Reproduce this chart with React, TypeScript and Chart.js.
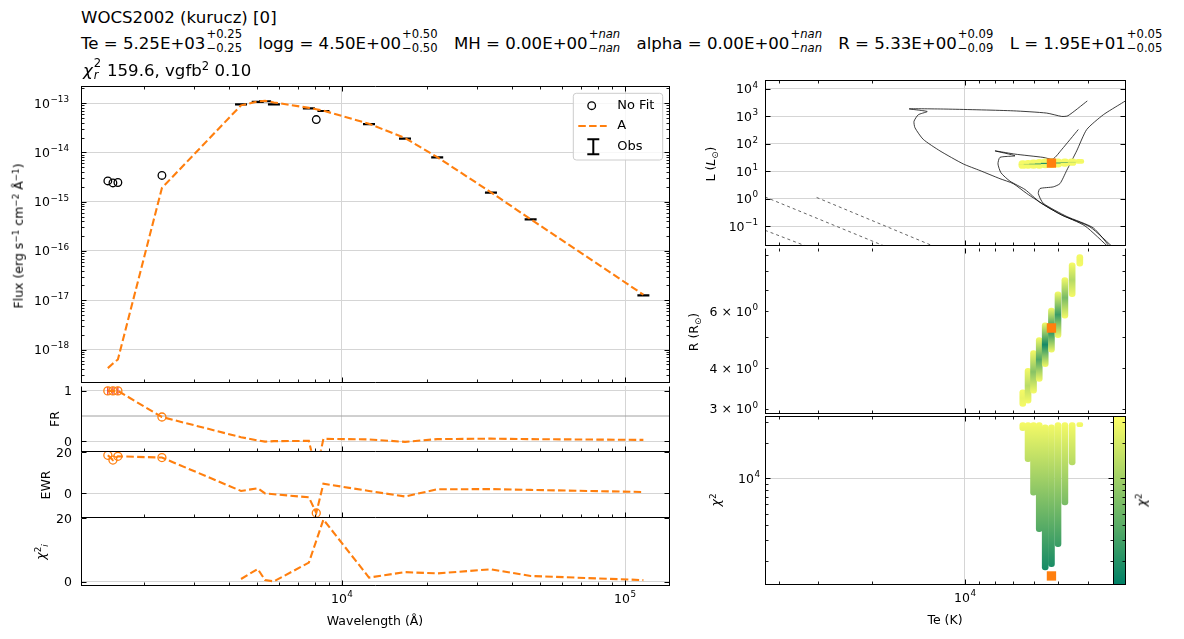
import React, { useEffect, useRef } from 'react';
import { Chart, registerables } from 'chart.js';

Chart.register(...registerables);

const FONT = '"DejaVu Sans", "Liberation Sans", sans-serif';
Chart.defaults.font.family = FONT;
Chart.defaults.color = '#000';

const ORANGE = '#ff7f0e';
const GRID = '#d5d5d5';
const DASH = [7.5, 3.3];

// ================= SED data (left column) =================
const obsWave = [4400, 5040, 5350, 5750, 7640, 8600, 12460, 16700, 21700, 33600, 46400, 116100];
const obsFlux = [9.4e-14, 1.06e-13, 1.09e-13, 9.4e-14, 7.8e-14, 6.9e-14, 3.75e-14, 1.9e-14, 7.9e-15, 1.53e-15, 4.36e-16, 1.26e-17];
const noFitWave = [1489, 1552, 1616, 2312, 8114];
const noFitFlux = [2.63e-15, 2.4e-15, 2.45e-15, 3.4e-15, 4.63e-14];
const modelWave = [1489, 1552, 1616, 2312, 4400, 5040, 5350, 5750, 7640, 8114, 8600, 12460, 16700, 21700, 33600, 46400, 116100];
const modelFlux = [4.2e-19, 5.2e-19, 6.3e-19, 1.9e-15, 9.0e-14, 1.08e-13, 1.11e-13, 1.03e-13, 8.0e-14, 7.5e-14, 7.0e-14, 3.8e-14, 1.95e-14, 8.0e-15, 1.55e-15, 4.4e-16, 1.3e-17];
const frValues = [1.0, 1.0, 1.0, 0.48, 0.078, 0.015, -0.01, 0.0, 0.006, -0.62, 0.045, 0.035, -0.014, 0.04, 0.05, 0.04, 0.025];
const ewrValues = [18.4, 16.1, 17.9, 17.3, 1.1, 2.4, -0.1, -0.5, -2.0, -9.6, 4.6, 1.1, -1.6, 1.9, 2.0, 1.6, 0.6];
const chiWave = [4400, 5040, 5350, 5750, 7640, 8600, 12460, 16700, 21700, 33600, 46400, 116100];
const chiValues = [0.85, 4.0, 0.5, 0.1, 6.0, 19.5, 1.3, 3.0, 2.6, 3.9, 1.8, 0.5];
const FR_REF = 0.5;

// axis limits (left column)
const WAVE_MIN = 1197, WAVE_MAX = 143000;
const FLUX_MIN = 2.22e-19, FLUX_MAX = 2.22e-13;
const FR_MIN = -0.19, FR_MAX = 1.097;
const EWR_MIN = -11.4, EWR_MAX = 20.0;
const CHII_MIN = -1.04, CHII_MAX = 20.0;

// ================= model grid (right column) =================
const gridTe = [6500, 6250, 6000, 5750, 5500, 5250, 5000, 4750, 4500, 4250];
const chiLow = [25300, 13800, 7200, 3520, 1670, 1780, 2630, 5940, 12970, 27400];
const chiHigh = [29600, 29600, 29600, 29600, 28300, 28300, 29600, 29600, 29600, 29600];
const radLow = [3.05, 3.12, 3.35, 3.64, 4.05, 4.49, 4.98, 5.72, 6.66, 8.28];
const radHigh = [3.43, 4.0, 4.54, 4.98, 5.53, 6.14, 6.9, 7.64, 8.48, 9.0];
const lumLow = [12.5, 12.5, 12.5, 12.5, 13, 13.5, 14, 15, 16, 19];
const lumHigh = [24, 25, 26, 27, 28, 28, 28, 28, 28, 27];
const bestTe = 5250, bestL = 19.5, bestR = 5.33, bestChi = 1486;

// evolutionary tracks (Te [K], L [Lsun])
const track1Te = [3270, 3940, 4808, 5440, 6313, 6979, 7704, 8942, 10130, 12050, 13650, 14510, 14620, 14160, 13250, 15150, 11180, 6979, 5440, 4864, 4642, 4020];
const track1L = [0.0143, 0.0929, 0.236, 0.513, 1.535, 3.51, 5.3, 10.5, 18.3, 54.7, 144, 378, 651, 1132, 1486, 1858, 1811, 1574, 1303, 984, 1042, 3597];
const track2Te = [3394, 4090, 4927, 5718, 6394, 7150, 7647, 7820, 7704, 6889, 7997, 6889, 5593, 5191, 4853, 4298];
const track2L = [0.0151, 0.101, 0.272, 0.731, 2.14, 4.3, 8.7, 18.3, 31.8, 36.2, 54.7, 41.7, 31.8, 27.6, 63, 328];
const track3Te = [2924, 3112, 3567, 4037, 4350, 4688, 4927, 5179, 5718, 5791, 5580, 4688, 3844, 3344];
const track3L = [4603, 2972, 1132, 328, 54.7, 10.5, 3.51, 2.67, 2.32, 1.535, 0.673, 0.224, 0.0855, 0.0139];
const dashATe = [44370, 16230], dashAL = [1.15, 0.0109];
const dashBTe = [30200, 11180], dashBL = [1.1, 0.0104];
const dashCTe = [44370, 31730], dashCL = [0.07, 0.0164];

const TE_MIN = 3035, TE_MAX = 44370, TE_MIN_CHI = 3319;
const L_MIN = 0.0197, L_MAX = 20900;
const R_MIN = 2.93, R_MAX = 9.43;
const CHI_MIN = 1270, CHI_MAX = 33700;

// tick values
const sedMajorX = [1e4, 1e5];
const fluxMajor = [1e-18, 1e-17, 1e-16, 1e-15, 1e-14, 1e-13];
const teMajor = [1e4];
const lumMajor = [0.1, 1, 10, 100, 1000, 10000];
const radLabelTicks = [3, 4, 6];
const radMinor = [3, 4, 5, 6, 7, 8, 9];
const chiMajor = [1e4];
const frTicks = [0, 1];
const ewrTicks = [0, 20];
const chiiTicks = [0, 20];

// ================= helpers =================
function logMinors(min: number, max: number) {
  const out: number[] = [];
  for (let e = Math.floor(Math.log10(min)) - 1; e <= Math.ceil(Math.log10(max)); e++) {
    for (let m = 2; m <= 9; m++) {
      const v = m * Math.pow(10, e);
      if (v > min && v < max) out.push(v);
    }
  }
  return out;
}
const pts = (xs: number[], ys: number[]) => xs.map((x, i) => ({ x, y: ys[i] }));

function summer(t: number) {
  const u = Math.max(0, Math.min(1, t));
  return `rgb(${Math.round(255 * u)},${Math.round(255 * (0.5 + 0.5 * u))},102)`;
}
const chiT = (c: number) => (Math.log10(c) - Math.log10(CHI_MIN)) / (Math.log10(CHI_MAX) - Math.log10(CHI_MIN));
const fin = (...v: number[]) => v.every((n) => Number.isFinite(n));

type Lbl = { v: number; base: string; exp?: string };
const p10 = (v: number): Lbl => ({ v, base: '10', exp: String(Math.round(Math.log10(v))).replace('-', '−') });
const plain = (v: number): Lbl => ({ v, base: String(v) });
const mant = (v: number): Lbl => ({ v, base: `${v} × 10`, exp: '0' });

type Rect = { left: number; top: number; width: number; height: number };
type Margin = { l: number; r: number; t: number; b: number };

// grid lines are drawn only at ticks strictly inside the axis range
function axis(o: { type: 'logarithmic' | 'linear'; min: number; max: number; ticks: number[]; grid?: boolean; reverse?: boolean }) {
  const inner = o.ticks.filter((v) => v > o.min && v < o.max);
  return {
    type: o.type, min: o.min, max: o.max, reverse: !!o.reverse, offset: false,
    afterBuildTicks: (s: any) => { s.ticks = inner.map((v) => ({ value: v })); },
    ticks: { display: false },
    grid: { display: o.grid !== false, color: GRID, lineWidth: 1, drawTicks: false, offset: false },
    border: { display: false },
  };
}

function baseOptions(m: Margin, x: any, y: any) {
  return {
    responsive: false, maintainAspectRatio: false, animation: false, devicePixelRatio: 1, events: [],
    layout: { padding: { left: 0, right: m.r, top: m.t, bottom: 0 } },
    plugins: { legend: { display: false }, tooltip: { enabled: false }, title: { display: false } },
    scales: {
      x: {
        ...x, position: 'bottom',
        afterFit: (s: any) => { s.height = m.b; s.paddingLeft = 0; s.paddingRight = 0; s.paddingTop = 0; s.paddingBottom = 0; },
      },
      y: {
        ...y, position: 'left',
        afterFit: (s: any) => { s.width = m.l; s.paddingTop = 0; s.paddingBottom = 0; s.paddingLeft = 0; s.paddingRight = 0; },
      },
    },
  };
}

type Spec = {
  xMajor: number[]; xMinor: number[]; xSides: string[];
  yMajor: number[]; yMinor: number[]; ySides: string[];
  xLabels?: Lbl[]; yLabels?: Lbl[]; yPad?: number;
  noTop?: boolean; legend?: boolean; colorbar?: boolean;
};

const TICK_FS = 12.5, EXP_FS = 8.8;

function drawTickLabel(ctx: CanvasRenderingContext2D, l: Lbl, x: number, y: number, align: 'right' | 'center') {
  ctx.font = `${TICK_FS}px ${FONT}`;
  const wb = ctx.measureText(l.base).width;
  let we = 0;
  if (l.exp) { ctx.font = `${EXP_FS}px ${FONT}`; we = ctx.measureText(l.exp).width + 0.5; }
  const total = wb + we;
  const x0 = align === 'right' ? x - total : x - total / 2;
  ctx.textAlign = 'left'; ctx.textBaseline = 'alphabetic'; ctx.fillStyle = '#000';
  ctx.font = `${TICK_FS}px ${FONT}`;
  ctx.fillText(l.base, x0, y);
  if (l.exp) { ctx.font = `${EXP_FS}px ${FONT}`; ctx.fillText(l.exp, x0 + wb + 0.5, y - 5.6); }
}

function framePlugin(spec: Spec) {
  const MAJ = 5, MIN = 3;
  const crisp = (v: number) => Math.round(v) + 0.5;
  return {
    id: 'mplFrame',
    afterDatasetsDraw(chart: any) {
      const { ctx, chartArea: a, scales } = chart;
      const xs = scales.x, ys = scales.y;
      const L = crisp(a.left), R = crisp(a.right), T = crisp(a.top), B = crisp(a.bottom);
      ctx.save();
      ctx.strokeStyle = '#000';
      const seg = (x1: number, y1: number, x2: number, y2: number, w: number) => {
        ctx.lineWidth = w; ctx.beginPath(); ctx.moveTo(x1, y1); ctx.lineTo(x2, y2); ctx.stroke();
      };
      const doX = (vals: number[], len: number, w: number) => vals.forEach((v) => {
        const p0 = xs.getPixelForValue(v);
        if (!(p0 >= a.left - 0.5 && p0 <= a.right + 0.5)) return;
        const p = crisp(p0);
        if (spec.xSides.includes('bottom')) seg(p, B, p, B - len, w);
        if (spec.xSides.includes('top')) seg(p, T, p, T + len, w);
      });
      const doY = (vals: number[], len: number, w: number) => vals.forEach((v) => {
        const p0 = ys.getPixelForValue(v);
        if (!(p0 >= a.top - 0.5 && p0 <= a.bottom + 0.5)) return;
        const p = crisp(p0);
        if (spec.ySides.includes('left')) seg(L, p, L + len, p, w);
        if (spec.ySides.includes('right')) seg(R, p, R - len, p, w);
      });
      doX(spec.xMinor, MIN, 0.9); doX(spec.xMajor, MAJ, 1);
      doY(spec.yMinor, MIN, 0.9); doY(spec.yMajor, MAJ, 1);
      ctx.lineWidth = 1;
      ctx.beginPath();
      if (!spec.noTop) { ctx.moveTo(L - 0.5, T); ctx.lineTo(R + 0.5, T); }
      ctx.moveTo(L - 0.5, B); ctx.lineTo(R + 0.5, B);
      ctx.moveTo(L, T); ctx.lineTo(L, B);
      ctx.moveTo(R, T); ctx.lineTo(R, B);
      ctx.stroke();
      (spec.yLabels || []).forEach((l) => {
        const p = ys.getPixelForValue(l.v);
        if (!fin(p)) return;
        drawTickLabel(ctx, l, a.left - (spec.yPad ?? 8), p + 4.5, 'right');
      });
      (spec.xLabels || []).forEach((l) => {
        const p = xs.getPixelForValue(l.v);
        if (!fin(p)) return;
        drawTickLabel(ctx, l, p, a.bottom + 18, 'center');
      });
      ctx.restore();
    },
    afterDraw(chart: any) {
      const { ctx, chartArea: a, scales } = chart;
      ctx.save();
      if (spec.colorbar) {
        const ys = scales.y;
        const x0 = crisp(a.right), w = 12;
        const T = crisp(a.top), B = crisp(a.bottom);
        const p0 = ys.getPixelForValue(CHI_MIN), p1 = ys.getPixelForValue(CHI_MAX);
        ctx.fillStyle = summer(0.5);
        if (fin(p0, p1) && p0 !== p1) {
          const g = ctx.createLinearGradient(0, p0, 0, p1);
          g.addColorStop(0, summer(0)); g.addColorStop(1, summer(1));
          ctx.fillStyle = g;
        }
        ctx.fillRect(x0, T, w, B - T);
        ctx.strokeStyle = '#000'; ctx.lineWidth = 1;
        ctx.strokeRect(x0, T, w, B - T);
        const tk = (vals: number[], len: number, lw: number) => vals.forEach((v) => {
          const p = ys.getPixelForValue(v);
          if (!fin(p) || p < a.top - 0.5 || p > a.bottom + 0.5) return;
          const q = crisp(p);
          ctx.lineWidth = lw; ctx.beginPath(); ctx.moveTo(x0 + w, q); ctx.lineTo(x0 + w - len, q); ctx.stroke();
        });
        tk(spec.yMinor, 3, 0.9); tk(spec.yMajor, 5, 1);
      }
      if (spec.legend) {
        const bw = 89.4, bh = 66.7;
        const bx = a.right - 6.3 - bw, by = a.top + 7.3;
        const r = 3;
        ctx.beginPath();
        ctx.moveTo(bx + r, by); ctx.lineTo(bx + bw - r, by); ctx.quadraticCurveTo(bx + bw, by, bx + bw, by + r);
        ctx.lineTo(bx + bw, by + bh - r); ctx.quadraticCurveTo(bx + bw, by + bh, bx + bw - r, by + bh);
        ctx.lineTo(bx + r, by + bh); ctx.quadraticCurveTo(bx, by + bh, bx, by + bh - r);
        ctx.lineTo(bx, by + r); ctx.quadraticCurveTo(bx, by, bx + r, by);
        ctx.closePath();
        ctx.fillStyle = 'rgba(255,255,255,0.8)'; ctx.fill();
        ctx.strokeStyle = '#cccccc'; ctx.lineWidth = 1; ctx.stroke();
        const rows = [by + 12.4, by + 32.7, by + 53.4];
        ctx.strokeStyle = '#000'; ctx.lineWidth = 1.3;
        ctx.beginPath(); ctx.arc(bx + 18.4, rows[0], 3.8, 0, Math.PI * 2); ctx.stroke();
        ctx.strokeStyle = ORANGE; ctx.lineWidth = 2.1; ctx.setLineDash(DASH);
        ctx.beginPath(); ctx.moveTo(bx + 5, rows[1]); ctx.lineTo(bx + 33.4, rows[1]); ctx.stroke();
        ctx.setLineDash([]);
        ctx.strokeStyle = '#000'; ctx.lineWidth = 2;
        const ex = bx + 20, ey = rows[2];
        ctx.beginPath();
        ctx.moveTo(ex, ey - 7.5); ctx.lineTo(ex, ey + 7.5);
        ctx.moveTo(ex - 6, ey - 7.5); ctx.lineTo(ex + 6, ey - 7.5);
        ctx.moveTo(ex - 6, ey + 7.5); ctx.lineTo(ex + 6, ey + 7.5);
        ctx.stroke();
        ctx.fillStyle = '#000'; ctx.font = `13px ${FONT}`; ctx.textBaseline = 'middle'; ctx.textAlign = 'left';
        const names = ['No Fit', 'A', 'Obs'];
        const ds = chart.data.datasets;
        const lbl = (n: string) => (ds.find((d: any) => d.label === n) || { label: n }).label;
        names.forEach((n, i) => ctx.fillText(lbl(n), bx + 44, rows[i]));
      }
      ctx.restore();
    },
  };
}

function Panel({ rect, m, make }: { rect: Rect; m: Margin; make: () => any }) {
  const ref = useRef<HTMLCanvasElement | null>(null);
  useEffect(() => {
    if (!ref.current) return;
    let chart: Chart | null = null;
    try {
      chart = new Chart(ref.current, make());
    } catch (e) {
      console.error(e);
    }
    return () => { if (chart) chart.destroy(); };
  }, []);
  const w = rect.width + m.l + m.r, h = rect.height + m.t + m.b;
  return (
    <canvas ref={ref} width={w} height={h}
      style={{ position: 'absolute', left: rect.left - m.l, top: rect.top - m.t, width: w, height: h }} />
  );
}

// ================= layout =================
const R_MAIN: Rect = { left: 81, top: 86, width: 588, height: 300 };
const R_FR: Rect = { left: 81, top: 386, width: 588, height: 66 };
const R_EWR: Rect = { left: 81, top: 452, width: 588, height: 66 };
const R_CHII: Rect = { left: 81, top: 518, width: 588, height: 67 };
const R_HR: Rect = { left: 765, top: 80, width: 360, height: 168 };
const R_RAD: Rect = { left: 765, top: 248, width: 360, height: 168 };
const R_CHI: Rect = { left: 765, top: 416, width: 348, height: 168 };
const M_L: Margin = { l: 81, r: 14, t: 12, b: 4 };
const M_LB: Margin = { l: 81, r: 14, t: 12, b: 32 };
const M_R: Margin = { l: 82, r: 14, t: 12, b: 4 };
const M_RB: Margin = { l: 82, r: 50, t: 12, b: 32 };

const sedMinorX = logMinors(WAVE_MIN, WAVE_MAX);
const teMinor = logMinors(TE_MIN, TE_MAX);

const sedX = () => axis({ type: 'logarithmic', min: WAVE_MIN, max: WAVE_MAX, ticks: sedMajorX });
const teX = (min: number) => axis({ type: 'logarithmic', min, max: TE_MAX, ticks: teMajor, reverse: true });

const lineDs = (data: any[], extra: any = {}) => ({
  type: 'line', data, showLine: true, borderColor: ORANGE, borderWidth: 2.1, borderDash: DASH,
  pointRadius: 0, fill: false, tension: 0, ...extra,
});
const circleDs = (data: any[], color: string, r: number) => ({
  type: 'scatter', data, showLine: false, pointStyle: 'circle', pointRadius: r, pointBorderWidth: 1.3,
  pointBorderColor: color, pointBackgroundColor: 'rgba(0,0,0,0)',
});

function mainCfg() {
  return {
    type: 'scatter',
    data: {
      datasets: [
        { label: 'A', ...lineDs(pts(modelWave, modelFlux)) },
        { label: 'No Fit', ...circleDs(pts(noFitWave, noFitFlux), '#000', 3.8) },
        { label: 'Obs', type: 'scatter', data: pts(obsWave, obsFlux), showLine: false, pointStyle: 'line', pointRadius: 6, pointBorderWidth: 2.2, pointBorderColor: '#000' },
      ],
    },
    options: baseOptions(M_L, sedX(), axis({ type: 'logarithmic', min: FLUX_MIN, max: FLUX_MAX, ticks: fluxMajor })),
    plugins: [framePlugin({
      xMajor: sedMajorX, xMinor: sedMinorX, xSides: ['bottom', 'top'],
      yMajor: fluxMajor, yMinor: logMinors(FLUX_MIN, FLUX_MAX), ySides: ['left', 'right'],
      yLabels: fluxMajor.map(p10), yPad: 12, legend: true,
    })],
  };
}

const atNoFit = (vals: number[]) => noFitWave.map((w) => ({ x: w, y: vals[modelWave.indexOf(w)] }));

function residSpec(yt: number[], xl: boolean): Spec {
  return {
    xMajor: sedMajorX, xMinor: sedMinorX, xSides: ['bottom'],
    yMajor: yt, yMinor: [], ySides: ['left', 'right'],
    yLabels: yt.map(plain), yPad: 9, xLabels: xl ? sedMajorX.map(p10) : [], noTop: true,
  };
}

function frCfg() {
  return {
    type: 'scatter',
    data: {
      datasets: [
        lineDs(pts(modelWave, frValues)),
        circleDs(atNoFit(frValues), ORANGE, 4),
        { type: 'scatter', data: atNoFit(frValues).filter((p) => p.y >= 0.99), pointStyle: 'line', pointRotation: 90, pointRadius: 4, pointBorderWidth: 1, pointBorderColor: '#e8000b', showLine: false },
        { type: 'line', data: [{ x: WAVE_MIN, y: FR_REF }, { x: WAVE_MAX, y: FR_REF }], borderColor: '#a0a0a0', borderWidth: 1, pointRadius: 0 },
      ],
    },
    options: baseOptions(M_L, sedX(), axis({ type: 'linear', min: FR_MIN, max: FR_MAX, ticks: frTicks })),
    plugins: [framePlugin(residSpec(frTicks, false))],
  };
}

function ewrCfg() {
  return {
    type: 'scatter',
    data: { datasets: [lineDs(pts(modelWave, ewrValues)), circleDs(atNoFit(ewrValues), ORANGE, 4)] },
    options: baseOptions(M_L, sedX(), axis({ type: 'linear', min: EWR_MIN, max: EWR_MAX, ticks: ewrTicks })),
    plugins: [framePlugin(residSpec(ewrTicks, false))],
  };
}

function chiiCfg() {
  return {
    type: 'scatter',
    data: { datasets: [lineDs(pts(chiWave, chiValues))] },
    options: baseOptions(M_LB, sedX(), axis({ type: 'linear', min: CHII_MIN, max: CHII_MAX, ticks: chiiTicks })),
    plugins: [framePlugin(residSpec(chiiTicks, true))],
  };
}

// column gradient: yellow ends, coloured centre (chi2 minimum of the column)
function columnFill(lows: number[], highs: number[], soft: boolean) {
  return (c: any) => {
    const i = c.dataIndex;
    const ys = c.chart?.scales?.y;
    if (i == null || !ys || !c.chart.chartArea) return summer(1);
    const y0 = ys.getPixelForValue(highs[i]);
    const y1 = ys.getPixelForValue(lows[i]);
    const end = summer(chiT(chiHigh[i]));
    const mid = summer(chiT(chiLow[i]));
    if (!fin(y0, y1) || Math.abs(y1 - y0) < 0.5) return end;
    const g = c.chart.ctx.createLinearGradient(0, y0, 0, y1);
    if (soft) {
      g.addColorStop(0, end); g.addColorStop(0.38, end); g.addColorStop(0.5, mid);
      g.addColorStop(0.62, end); g.addColorStop(1, end);
    } else {
      g.addColorStop(0, end); g.addColorStop(0.5, mid); g.addColorStop(1, end);
    }
    return g;
  };
}

const barDs = (lows: number[], highs: number[], fill: any, thick: number) => ({
  type: 'bar', data: gridTe.map((t, i) => ({ x: t, y: [lows[i], highs[i]] })),
  backgroundColor: fill, borderWidth: 0, barThickness: thick, borderRadius: thick / 2, borderSkipped: false,
});
const bestDs = (y: number) => ({
  type: 'scatter', data: [{ x: bestTe, y }], pointStyle: 'rect', pointRadius: 6.6,
  pointBackgroundColor: ORANGE, pointBorderColor: ORANGE, pointBorderWidth: 0, showLine: false,
});
const trackDs = (te: number[], l: number[]) => ({
  type: 'line', data: pts(te, l), borderColor: 'rgba(0,0,0,0.85)', borderWidth: 0.9, pointRadius: 0, tension: 0.2, fill: false,
});
const dashDs = (te: number[], l: number[]) => ({
  type: 'line', data: pts(te, l), borderColor: '#555', borderWidth: 0.9, borderDash: [3, 3], pointRadius: 0, fill: false,
});

function hrCfg() {
  return {
    type: 'bar',
    data: {
      datasets: [
        bestDs(bestL),
        barDs(lumLow, lumHigh, columnFill(lumLow, lumHigh, true), 8),
        trackDs(track1Te, track1L), trackDs(track2Te, track2L), trackDs(track3Te, track3L),
        dashDs(dashATe, dashAL), dashDs(dashBTe, dashBL), dashDs(dashCTe, dashCL),
      ],
    },
    options: baseOptions(M_R, teX(TE_MIN), axis({ type: 'logarithmic', min: L_MIN, max: L_MAX, ticks: lumMajor })),
    plugins: [framePlugin({
      xMajor: teMajor, xMinor: teMinor, xSides: ['bottom', 'top'],
      yMajor: lumMajor, yMinor: [], ySides: ['left', 'right'], yLabels: lumMajor.map(p10), yPad: 7,
    })],
  };
}

function radCfg() {
  return {
    type: 'bar',
    data: { datasets: [bestDs(bestR), barDs(radLow, radHigh, columnFill(radLow, radHigh, false), 6)] },
    options: baseOptions(M_R, teX(TE_MIN), axis({ type: 'logarithmic', min: R_MIN, max: R_MAX, ticks: radLabelTicks, grid: false })),
    plugins: [framePlugin({
      xMajor: teMajor, xMinor: teMinor, xSides: ['bottom', 'top'],
      yMajor: [], yMinor: radMinor, ySides: ['left', 'right'], yLabels: radLabelTicks.map(mant), yPad: 7, noTop: true,
    })],
  };
}

function chiCfg() {
  const chiFill = (c: any) => {
    const ys = c.chart?.scales?.y;
    if (c.dataIndex == null || !ys || !c.chart.chartArea) return summer(0.5);
    const p0 = ys.getPixelForValue(CHI_MIN), p1 = ys.getPixelForValue(CHI_MAX);
    if (!fin(p0, p1) || p0 === p1) return summer(0.5);
    const g = c.chart.ctx.createLinearGradient(0, p0, 0, p1);
    g.addColorStop(0, summer(0)); g.addColorStop(1, summer(1));
    return g;
  };
  return {
    type: 'bar',
    data: { datasets: [bestDs(bestChi), barDs(chiLow, chiHigh, chiFill, 6)] },
    options: baseOptions(M_RB, teX(TE_MIN_CHI), axis({ type: 'logarithmic', min: CHI_MIN, max: CHI_MAX, ticks: chiMajor })),
    plugins: [framePlugin({
      xMajor: teMajor, xMinor: logMinors(TE_MIN_CHI, TE_MAX), xSides: ['bottom', 'top'],
      yMajor: chiMajor, yMinor: logMinors(CHI_MIN, CHI_MAX), ySides: ['left', 'right'],
      yLabels: chiMajor.map(p10), yPad: 5, xLabels: teMajor.map(p10), colorbar: true,
    })],
  };
}

// ================= text =================
const TXT: React.CSSProperties = { position: 'absolute', fontFamily: FONT, color: '#000', whiteSpace: 'pre', lineHeight: 1 };
const Sup = ({ children }: any) => <span style={{ fontSize: '0.7em', position: 'relative', top: '-0.5em' }}>{children}</span>;
const Sub = ({ children }: any) => <span style={{ fontSize: '0.7em', position: 'relative', top: '0.3em' }}>{children}</span>;

let measureCtx: CanvasRenderingContext2D | null = null;
function textWidth(t: string, size: number) {
  if (!measureCtx) measureCtx = document.createElement('canvas').getContext('2d');
  if (!measureCtx) return t.length * size * 0.6;
  measureCtx.font = `${size}px ${FONT}`;
  return measureCtx.measureText(t).width;
}

// stacked super/subscript anchored on the baseline
function Scripts({ up, dn, upText, dnText, size, upOff, dnOff }: any) {
  const s = size * 0.7;
  const w = Math.max(textWidth(upText, s), textWidth(dnText, s)) + 1.5;
  return (
    <span style={{ display: 'inline-block', position: 'relative', width: w, height: 0 }}>
      <span style={{ position: 'absolute', left: 1, top: upOff - 0.846 * s, fontSize: s, lineHeight: 1, whiteSpace: 'nowrap' }}>{up}</span>
      <span style={{ position: 'absolute', left: 1, top: dnOff - 0.846 * s, fontSize: s, lineHeight: 1, whiteSpace: 'nowrap' }}>{dn}</span>
    </span>
  );
}

function VLabel({ x, y, children, size = 12.5 }: any) {
  return (
    <div style={{ ...TXT, left: x, top: y, fontSize: size, transform: 'translate(-50%, -50%) rotate(-90deg)' }}>{children}</div>
  );
}
function HLabel({ x, y, children, size = 12.5 }: any) {
  return <div style={{ ...TXT, left: x, top: y, fontSize: size, transform: 'translate(-50%, -50%)' }}>{children}</div>;
}

const TITLE_SIZE = 16.6;
const titleName = 'WOCS2002 (kurucz) [0]';
const paramNames = ['Te', 'logg', 'MH', 'alpha', 'R', 'L'];
const paramVals = ['5.25E+03', '4.50E+00', '0.00E+00', '0.00E+00', '5.33E+00', '1.95E+01'];
const paramErr = ['0.25', '0.50', 'nan', 'nan', '0.09', '0.05'];
const chiRed = '159.6';
const vgfb = '0.10';

function Title() {
  const top = (baseline: number) => baseline - 0.846 * TITLE_SIZE;
  const S = TITLE_SIZE;
  return (
    <>
      <div style={{ ...TXT, left: 81, top: top(24), fontSize: S }}>{titleName}</div>
      <div style={{ ...TXT, left: 81, top: top(50), fontSize: S }}>
        {paramNames.map((n, i) => {
          const e = paramErr[i];
          const isNan = e === 'nan';
          const up = isNan ? <>+<i>nan</i></> : `+${e}`;
          const dn = isNan ? <>−<i>nan</i></> : `−${e}`;
          return (
            <React.Fragment key={n}>
              {i > 0 ? '   ' : ''}{`${n} = ${paramVals[i]}`}
              <Scripts up={up} dn={dn} upText={`+${e}`} dnText={`−${e}`} size={S} upOff={-10.3} dnOff={3.4} />
            </React.Fragment>
          );
        })}
      </div>
      <div style={{ ...TXT, left: 83, top: top(77), fontSize: S }}>
        <i>χ</i><Scripts up="2" dn={<i>r</i>} upText="2" dnText="r" size={S} upOff={-8} dnOff={3.4} />
        {` ${chiRed}, vgfb`}<Sup>2</Sup>{` ${vgfb}`}
      </div>
    </>
  );
}

export default function App() {
  return (
    <div style={{ position: 'fixed', left: 0, top: 0, width: 1184, height: 639, background: '#fff', overflow: 'hidden' }}>
      <Panel rect={R_MAIN} m={M_L} make={mainCfg} />
      <Panel rect={R_FR} m={M_L} make={frCfg} />
      <Panel rect={R_EWR} m={M_L} make={ewrCfg} />
      <Panel rect={R_CHII} m={M_LB} make={chiiCfg} />
      <Panel rect={R_HR} m={M_R} make={hrCfg} />
      <Panel rect={R_RAD} m={M_R} make={radCfg} />
      <Panel rect={R_CHI} m={M_RB} make={chiCfg} />
      <Title />
      <VLabel x={19} y={236}>Flux (erg s<Sup>−1</Sup> cm<Sup>−2</Sup> Å<Sup>−1</Sup>)</VLabel>
      <VLabel x={55} y={419}>FR</VLabel>
      <VLabel x={46} y={485}>EWR</VLabel>
      <VLabel x={41} y={552}><i>χ</i><Sup>2</Sup><Sub><i>i</i></Sub></VLabel>
      <HLabel x={375} y={621}>Wavelength (Å)</HLabel>
      <VLabel x={711} y={164}>L (<i>L</i><Sub>⊙</Sub>)</VLabel>
      <VLabel x={694} y={332}>R (R<Sub>⊙</Sub>)</VLabel>
      <VLabel x={716} y={500}><i>χ</i><Sup>2</Sup></VLabel>
      <HLabel x={945} y={620}>Te (K)</HLabel>
      <VLabel x={1142} y={500}><i>χ</i><Sup>2</Sup></VLabel>
    </div>
  );
}
